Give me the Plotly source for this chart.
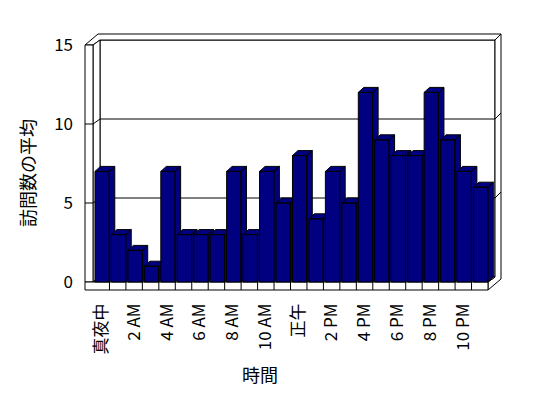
import plotly.graph_objects as go

# ---- data ----
hours = list(range(24))
visits = [7, 3, 2, 1, 7, 3, 3, 3, 7, 3, 7, 5, 8, 4, 7, 5, 12, 9, 8, 8, 12, 9, 7, 6]
tick_positions = [0, 2, 4, 6, 8, 10, 12, 14, 16, 18, 20, 22]
tick_labels = ["真夜中", "2 AM", "4 AM", "6 AM", "8 AM", "10 AM", "正午",
               "2 PM", "4 PM", "6 PM", "8 PM", "10 PM"]
y_ticks = [0, 5, 10, 15]
x_title = "時間"
y_title = "訪問数の平均"

# ---- layout geometry ----
W, H = 548, 398
PL, PR, PT, PB = 84, 502, 33, 291          # plot area in px
X0, X1 = -0.5, 23.5                         # category edges
Y0, Y1 = 0, 15
ux = (488 - 93) / (X1 - X0)                 # px per category
uy = (282 - 45) / (Y1 - Y0)                 # px per value unit
xr = [X0 - (93 - PL) / ux, X0 + (PR - 93) / ux]
yr = [Y0 - (PB - 282) / uy, Y0 + (282 - PT) / uy]

def px2paper_x(px):
    return (px - PL) / (PR - PL)

def px2paper_y(py):
    return (PB - py) / (PB - PT)

dDx, dDy = 7 / ux, 5 / uy     # floor depth
dTx, dTy = 6 / ux, 6 / uy     # back wall thickness
wW = 8 / ux                   # left wall thickness
fF = 8 / uy                   # floor thickness
bdx, bdy = 5.5 / ux, 5 / uy   # bar depth
b_off, b_w = 0.12, 0.87

NAVY = "#000080"
LINE = dict(color="black", width=1)

shapes = []

def poly(pts, fill="white"):
    path = "M " + " L ".join(f"{x},{y}" for x, y in pts) + " Z"
    shapes.append(dict(type="path", path=path, xref="x", yref="y",
                       fillcolor=fill, line=LINE, layer="below"))

def seg(x0, y0, x1, y1):
    shapes.append(dict(type="line", x0=x0, y0=y0, x1=x1, y1=y1,
                       xref="x", yref="y", line=LINE, layer="below"))

# back wall inner face
poly([(X0 + dDx, Y0 + dDy), (X1 + dDx, Y0 + dDy), (X1 + dDx, Y1 + dDy), (X0 + dDx, Y1 + dDy)])
# right end face (back wall + floor)
poly([(X1 + dDx, Y1 + dDy), (X1 + dDx + dTx, Y1 + dDy + dTy),
      (X1 + dDx + dTx, Y0 - fF + dDy + dTy), (X1, Y0 - fF), (X1, Y0), (X1 + dDx, Y0 + dDy)])
# top face of walls
poly([(X0 - wW, Y1), (X0, Y1), (X0 + dDx, Y1 + dDy), (X1 + dDx, Y1 + dDy),
      (X1 + dDx + dTx, Y1 + dDy + dTy), (X0 - wW + dDx + dTx, Y1 + dDy + dTy)])
# left wall inner face
poly([(X0, Y0), (X0, Y1), (X0 + dDx, Y1 + dDy), (X0 + dDx, Y0 + dDy)])
# left wall front face
poly([(X0 - wW, Y0), (X0, Y0), (X0, Y1), (X0 - wW, Y1)])
# floor top
poly([(X0, Y0), (X1, Y0), (X1 + dDx, Y0 + dDy), (X0 + dDx, Y0 + dDy)])
# floor front
poly([(X0 - wW, Y0 - fF), (X1, Y0 - fF), (X1, Y0), (X0 - wW, Y0)])
# gridlines
for v in y_ticks[1:-1]:
    seg(X0 + dDx, v + dDy, X1 + dDx, v + dDy)
    seg(X0, v, X0 + dDx, v + dDy)
    seg(X0 - wW, v, X0, v)
    seg(X1 + dDx, v + dDy, X1 + dDx + dTx, v + dDy + dTy)
# floor divisions
for k in range(1, len(hours)):
    seg(X0 + k, Y0, X0 + k, Y0 - fF)

fig = go.Figure()

for h, v in zip(hours, visits):
    l = h - 0.5 + b_off
    r = l + b_w
    xs = [l, r, r, l, l, None,
          l, r, r + bdx, l + bdx, l, None,
          r, r + bdx, r + bdx, r, r]
    ys = [0, 0, v, v, 0, None,
          v, v, v + bdy, v + bdy, v, None,
          0, bdy, v + bdy, v, 0]
    fig.add_trace(go.Scatter(x=xs, y=ys, mode="lines", fill="toself",
                             fillcolor=NAVY, line=LINE, hoverinfo="skip",
                             showlegend=False))

FONT = "Noto Sans CJK JP"

fig.update_layout(
    width=W, height=H,
    margin=dict(l=PL, r=W - PR, t=PT, b=H - PB, pad=0),
    paper_bgcolor="white", plot_bgcolor="white",
    shapes=shapes,
    showlegend=False,
    font=dict(family=FONT, color="black", size=17),
    xaxis=dict(range=xr, showgrid=False, zeroline=False, showline=False,
               tickmode="array", tickvals=tick_positions, ticktext=tick_labels,
               tickangle=-90, ticks="", ticklabelstandoff=8,
               tickfont=dict(family=FONT, size=17, color="black"), fixedrange=True),
    yaxis=dict(range=yr, showgrid=False, zeroline=False, showline=False,
               tickmode="array", tickvals=y_ticks, ticks="", ticklabelstandoff=10,
               tickfont=dict(family=FONT, size=17, color="black"), fixedrange=True),
    annotations=[
        dict(text=x_title, x=px2paper_x(260), y=px2paper_y(374), xref="paper", yref="paper",
             showarrow=False, font=dict(family=FONT, size=18, color="black"),
             xanchor="center", yanchor="middle"),
        dict(text=y_title, x=px2paper_x(27), y=px2paper_y(173), xref="paper", yref="paper",
             showarrow=False, textangle=-90, font=dict(family=FONT, size=18, color="black"),
             xanchor="center", yanchor="middle"),
    ],
)

fig.write_html("out.html", config={"staticPlot": True},
               post_script="document.body.style.margin='0';document.body.style.padding='0';")
